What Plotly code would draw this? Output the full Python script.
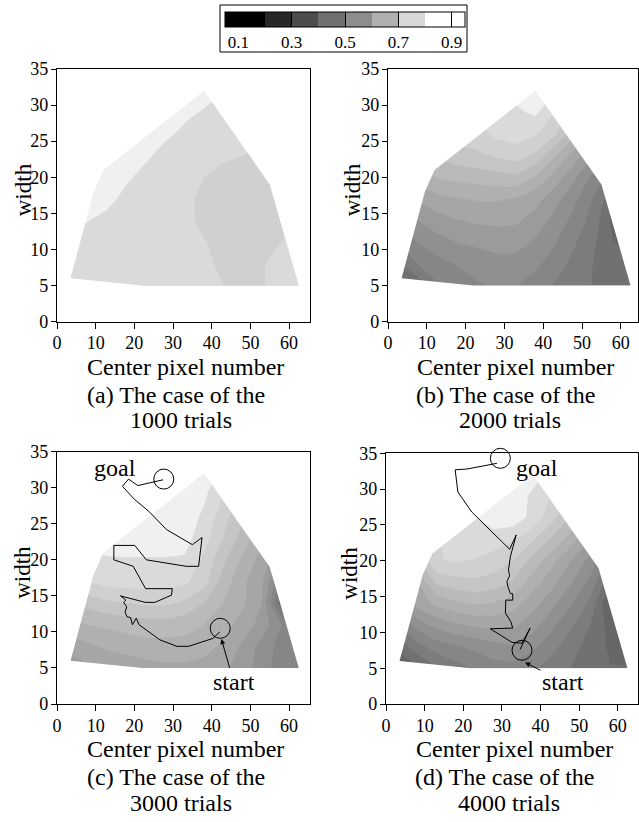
import plotly.graph_objects as go

# ---------------- data ----------------
grid_x = [3, 8, 13, 18, 23, 28, 33, 38, 43, 48, 53, 58, 63]        # center pixel number
grid_y = [5, 8, 11, 14, 17, 20, 23, 26, 29, 32]                     # width

rate_1000 = [
    [0.79, 0.79, 0.79, 0.79, 0.79, 0.79, 0.79, 0.79, 0.775, 0.765, 0.772, 0.79, 0.795],
    [0.79, 0.79, 0.79, 0.79, 0.79, 0.79, 0.79, 0.785, 0.765, 0.765, 0.772, 0.79, 0.79],
    [0.79, 0.79, 0.79, 0.79, 0.79, 0.79, 0.79, 0.777, 0.765, 0.765, 0.765, 0.775, 0.79],
    [0.805, 0.801, 0.79, 0.79, 0.79, 0.79, 0.785, 0.765, 0.765, 0.765, 0.765, 0.767, 0.78],
    [0.81, 0.81, 0.81, 0.79, 0.79, 0.79, 0.785, 0.765, 0.765, 0.765, 0.765, 0.765, 0.77],
    [0.81, 0.81, 0.81, 0.805, 0.79, 0.79, 0.79, 0.775, 0.765, 0.765, 0.765, 0.765, 0.77],
    [0.81, 0.81, 0.81, 0.81, 0.805, 0.79, 0.79, 0.79, 0.78, 0.775, 0.77, 0.77, 0.77],
    [0.81, 0.81, 0.81, 0.81, 0.81, 0.805, 0.795, 0.79, 0.79, 0.785, 0.78, 0.78, 0.78],
    [0.81, 0.81, 0.81, 0.81, 0.81, 0.81, 0.805, 0.798, 0.79, 0.79, 0.79, 0.79, 0.79],
    [0.81, 0.81, 0.81, 0.81, 0.81, 0.81, 0.81, 0.81, 0.80, 0.79, 0.79, 0.79, 0.79],
]

rate_2000 = [
    [0.519, 0.535, 0.573, 0.587, 0.597, 0.602, 0.602, 0.587, 0.573, 0.559, 0.549, 0.540, 0.535],
    [0.549, 0.578, 0.592, 0.602, 0.611, 0.616, 0.616, 0.606, 0.587, 0.568, 0.549, 0.535, 0.526],
    [0.578, 0.602, 0.616, 0.626, 0.630, 0.635, 0.635, 0.621, 0.602, 0.578, 0.554, 0.526, 0.516],
    [0.606, 0.626, 0.640, 0.649, 0.654, 0.656, 0.654, 0.640, 0.616, 0.592, 0.564, 0.516, 0.507],
    [0.637, 0.654, 0.668, 0.673, 0.678, 0.678, 0.673, 0.659, 0.635, 0.606, 0.573, 0.530, 0.516],
    [0.668, 0.687, 0.702, 0.707, 0.711, 0.716, 0.721, 0.697, 0.664, 0.630, 0.592, 0.559, 0.535],
    [0.697, 0.716, 0.730, 0.740, 0.745, 0.754, 0.761, 0.745, 0.702, 0.664, 0.626, 0.592, 0.564],
    [0.733, 0.745, 0.756, 0.761, 0.764, 0.782, 0.787, 0.778, 0.754, 0.707, 0.668, 0.626, 0.592],
    [0.768, 0.773, 0.778, 0.780, 0.782, 0.787, 0.795, 0.805, 0.775, 0.740, 0.704, 0.666, 0.630],
    [0.790, 0.790, 0.795, 0.800, 0.800, 0.805, 0.810, 0.820, 0.800, 0.760, 0.720, 0.680, 0.640],
]

rate_3000 = [
    [0.635, 0.645, 0.655, 0.66, 0.665, 0.67, 0.67, 0.665, 0.655, 0.64, 0.61, 0.59, 0.58],
    [0.66, 0.67, 0.68, 0.685, 0.69, 0.69, 0.69, 0.685, 0.67, 0.645, 0.615, 0.59, 0.58],
    [0.69, 0.70, 0.705, 0.71, 0.715, 0.715, 0.71, 0.70, 0.685, 0.665, 0.64, 0.60, 0.58],
    [0.725, 0.735, 0.745, 0.75, 0.755, 0.755, 0.745, 0.725, 0.70, 0.68, 0.65, 0.53, 0.52],
    [0.76, 0.775, 0.785, 0.787, 0.787, 0.787, 0.78, 0.76, 0.715, 0.68, 0.655, 0.57, 0.55],
    [0.785, 0.795, 0.798, 0.798, 0.798, 0.798, 0.797, 0.77, 0.73, 0.695, 0.665, 0.62, 0.58],
    [0.80, 0.805, 0.81, 0.815, 0.815, 0.815, 0.81, 0.785, 0.75, 0.715, 0.68, 0.64, 0.60],
    [0.81, 0.815, 0.82, 0.82, 0.82, 0.82, 0.815, 0.795, 0.76, 0.73, 0.70, 0.66, 0.62],
    [0.82, 0.82, 0.82, 0.82, 0.82, 0.82, 0.82, 0.805, 0.775, 0.745, 0.71, 0.67, 0.63],
    [0.82, 0.82, 0.82, 0.82, 0.82, 0.82, 0.82, 0.815, 0.79, 0.755, 0.72, 0.68, 0.64],
]

rate_4000 = [
    [0.507, 0.521, 0.549, 0.564, 0.578, 0.590, 0.590, 0.578, 0.564, 0.549, 0.535, 0.526, 0.526],
    [0.530, 0.564, 0.587, 0.597, 0.606, 0.616, 0.623, 0.606, 0.583, 0.559, 0.540, 0.521, 0.516],
    [0.573, 0.611, 0.633, 0.645, 0.654, 0.659, 0.654, 0.635, 0.606, 0.578, 0.549, 0.516, 0.502],
    [0.602, 0.659, 0.680, 0.695, 0.702, 0.697, 0.687, 0.659, 0.633, 0.602, 0.568, 0.497, 0.488],
    [0.649, 0.673, 0.730, 0.740, 0.745, 0.740, 0.721, 0.687, 0.659, 0.626, 0.592, 0.530, 0.507],
    [0.697, 0.721, 0.773, 0.778, 0.773, 0.764, 0.749, 0.716, 0.683, 0.649, 0.616, 0.566, 0.530],
    [0.745, 0.756, 0.773, 0.787, 0.792, 0.787, 0.778, 0.754, 0.721, 0.687, 0.649, 0.614, 0.578],
    [0.780, 0.787, 0.792, 0.796, 0.800, 0.815, 0.815, 0.792, 0.759, 0.721, 0.685, 0.649, 0.614],
    [0.800, 0.800, 0.805, 0.810, 0.815, 0.815, 0.815, 0.795, 0.773, 0.740, 0.709, 0.670, 0.640],
    [0.810, 0.810, 0.810, 0.815, 0.815, 0.815, 0.815, 0.810, 0.792, 0.756, 0.721, 0.685, 0.649],
]

# sampled region (outline of the explored parameter space)
region_x = [3.5, 9.5, 12, 38, 55, 62.5, 22, 3.5]
region_y = [6, 18, 21, 32, 19, 5, 5, 6]

# trajectories (goal -> start)
path_3000_x = [27.4, 20.9, 18.5, 16.9, 20.0, 23.8, 28.3, 35.0, 37.5, 36.6, 33.4, 23.1, 20.1, 14.7, 14.7,
               19.7, 22.9, 29.8, 29.6, 25.3, 22.8, 16.4, 17.8, 17.2, 18.0, 17.6, 18.1, 19.0, 19.5,
               20.5, 21.2, 26.6, 31.0, 34.0, 40.3, 42.1]
path_3000_y = [31.1, 30.3, 31.2, 30.2, 28.4, 26.7, 24.2, 22.1, 23.1, 19.1, 19.1, 20.0, 22.0, 22.0, 20.0,
               19.1, 16.0, 16.0, 15.1, 14.1, 14.1, 15.0, 14.4, 14.1, 13.5, 12.7, 12.1, 12.0, 11.0,
               11.9, 11.0, 8.9, 8.0, 8.0, 9.1, 10.0]
path_4000_x = [28.7, 20.9, 17.9, 18.6, 22.2, 32.0, 33.7, 32.2, 31.7, 32.0, 31.3, 31.6, 32.2, 32.8, 32.8,
               31.0, 30.9, 32.3, 32.8, 30.0, 27.0, 32.6, 35.2, 37.3, 34.7]
path_4000_y = [33.6, 32.8, 32.7, 29.6, 26.8, 21.6, 23.6, 20.6, 18.7, 17.9, 17.1, 16.3, 15.4, 15.4, 14.5,
               14.5, 12.7, 11.5, 10.6, 10.6, 10.5, 8.6, 8.5, 10.6, 7.6]
start_3000 = (42.2, 10.5)
goal_3000 = (27.6, 31.2)
start_4000 = (35.2, 7.5)
goal_4000 = (29.6, 34.3)

x_ticks = [0, 10, 20, 30, 40, 50, 60]
y_ticks = [0, 5, 10, 15, 20, 25, 30, 35]
cbar_ticks = [0.1, 0.3, 0.5, 0.7, 0.9]
x_title = "Center pixel number"
y_title = "width"
captions = [("(a) The case of the", "1000 trials"), ("(b) The case of the", "2000 trials"),
            ("(c) The case of the", "3000 trials"), ("(d) The case of the", "4000 trials")]

# ---------------- style ----------------
FONT = "Liberation Serif"
W, H = 639, 822

band_grays = [71, 81.5, 92, 102.5, 113, 123.5, 134, 144.5, 155, 165.5, 176, 186.5, 197, 207.5, 218, 240]
panel_scale = [[j / 15, "rgb(%d,%d,%d)" % (round(g), round(g), round(g))] for j, g in enumerate(band_grays)]
cbar_scale = [[0, "#000000"], [1 / 9, "#000000"], [2 / 9, "#272727"], [3 / 9, "#4d4d4d"],
              [4 / 9, "#707070"], [5 / 9, "#8d8d8d"], [6 / 9, "#b0b0b0"], [7 / 9, "#d8d8d8"],
              [8 / 9, "#ffffff"], [1, "#ffffff"]]


def px_x(p):
    return p / W


def px_y(p):
    return 1 - p / H


panels = [
    dict(x=(57, 310), y=(69, 321.5), xr=65.4, z=rate_1000, ytx=23),
    dict(x=(388, 638.3), y=(69, 321.5), xr=64.5, z=rate_2000, ytx=352),
    dict(x=(57, 310), y=(451.7, 704), xr=65.4, z=rate_3000, ytx=23),
    dict(x=(386, 638.3), y=(453.3, 704), xr=65.3, z=rate_4000, ytx=350),
]

fig = go.Figure()
layout = dict(width=W, height=H, margin=dict(l=0, r=0, t=0, b=0, autoexpand=False),
              paper_bgcolor="white", plot_bgcolor="white", showlegend=False,
              font=dict(family=FONT, color="black", size=18))
annotations = []

for i, p in enumerate(panels):
    n = i + 1
    xa = "x" if n == 1 else "x%d" % n
    ya = "y" if n == 1 else "y%d" % n
    fig.add_trace(go.Contour(
        x=grid_x, y=grid_y, z=p["z"], xaxis=xa, yaxis=ya,
        colorscale=panel_scale, zauto=False, zmin=0.3, zmax=0.95, showscale=False,
        autocontour=False, contours=dict(start=0.45, end=0.8, size=0.025, coloring="fill", showlines=False),
        line=dict(width=0, smoothing=0), hoverinfo="skip"))
    # white out the part of the grid outside the sampled region
    fig.add_trace(go.Scatter(
        x=[2.5, 63.5, 63.5, 2.5, 2.5, None] + region_x,
        y=[4.8, 4.8, 32.5, 32.5, 4.8, None] + region_y,
        xaxis=xa, yaxis=ya, mode="lines", fill="toself", fillcolor="white",
        line=dict(width=0, color="white"), hoverinfo="skip"))
    axis_common = dict(showgrid=False, zeroline=False, showline=True, mirror=True,
                       linecolor="black", linewidth=1.3, ticks="outside", ticklen=5,
                       tickwidth=1, tickcolor="black", tickfont=dict(size=18, family=FONT))
    layout["xaxis" if n == 1 else "xaxis%d" % n] = dict(
        axis_common, domain=[px_x(p["x"][0]), px_x(p["x"][1])], range=[0, p["xr"]],
        tickvals=x_ticks, anchor=ya, ticklen=6, ticklabelstandoff=-1)
    layout["yaxis" if n == 1 else "yaxis%d" % n] = dict(
        axis_common, domain=[px_y(p["y"][1]), px_y(p["y"][0])], range=[0, 35],
        tickvals=y_ticks, anchor=xa, ticklabelstandoff=-1)
    mid = (p["x"][0] + p["x"][1]) / 2
    ybase = p["y"][1]
    annotations.append(dict(xref="paper", yref="paper", x=px_x(mid + 2), y=px_y(ybase + 45), text=x_title,
                            showarrow=False, font=dict(size=24, family=FONT), xanchor="center", yanchor="middle"))
    annotations.append(dict(xref="paper", yref="paper", x=px_x(p["ytx"]),
                            y=px_y((p["y"][0] + p["y"][1]) / 2 - 5), text=y_title, textangle=-90,
                            showarrow=False, font=dict(size=23, family=FONT), xanchor="center", yanchor="middle"))
    annotations.append(dict(xref="paper", yref="paper", x=px_x(mid - 8), y=px_y(ybase + 73), text=captions[i][0],
                            showarrow=False, font=dict(size=24, family=FONT), xanchor="center", yanchor="middle"))
    annotations.append(dict(xref="paper", yref="paper", x=px_x(mid - 3), y=px_y(ybase + 99), text=captions[i][1],
                            showarrow=False, font=dict(size=24, family=FONT), xanchor="center", yanchor="middle"))

traj = [(3, path_3000_x, path_3000_y, start_3000, goal_3000),
        (4, path_4000_x, path_4000_y, start_4000, goal_4000)]
for n, tx, ty, st, gl in traj:
    xa, ya = "x%d" % n, "y%d" % n
    fig.add_trace(go.Scatter(x=tx, y=ty, xaxis=xa, yaxis=ya, mode="lines",
                             line=dict(color="black", width=1), hoverinfo="skip"))
    fig.add_trace(go.Scatter(x=[st[0], gl[0]], y=[st[1], gl[1]], xaxis=xa, yaxis=ya, mode="markers",
                             marker=dict(symbol="circle-open", size=20, color="black", line=dict(width=1)),
                             hoverinfo="skip", cliponaxis=False))

annotations += [
    dict(xref="x3", yref="y3", x=15.1, y=32.8, text="goal", showarrow=False, font=dict(size=24, family=FONT)),
    dict(xref="x3", yref="y3", x=42.5, y=9.0, axref="x3", ayref="y3", ax=45.7, ay=3.0, text="start",
         showarrow=True, arrowhead=2, arrowsize=1, arrowwidth=1, arrowcolor="black",
         font=dict(size=24, family=FONT)),
    dict(xref="x4", yref="y4", x=39.2, y=33.0, text="goal", showarrow=False, font=dict(size=24, family=FONT)),
    dict(xref="x4", yref="y4", x=36.0, y=5.8, axref="x4", ayref="y4", ax=45.8, ay=3.1, text="start",
         showarrow=True, arrowhead=2, arrowsize=1, arrowwidth=1, arrowcolor="black",
         font=dict(size=24, family=FONT)),
]

# colour bar (carried by a hidden helper trace)
fig.add_trace(go.Contour(
    x=[-10, -9], y=[-10, -9], z=[[0.1, 0.9], [0.9, 0.1]], xaxis="x5", yaxis="y5",
    colorscale=cbar_scale, autocontour=False,
    contours=dict(start=0.1, end=0.9, size=0.1, coloring="fill", showlines=False),
    line=dict(width=0), hoverinfo="skip",
    colorbar=dict(orientation="h", lenmode="pixels", len=254, thicknessmode="pixels", thickness=15,
                  x=345 / W, xanchor="center", y=px_y(5), yanchor="top", xpad=7, ypad=7,
                  outlinewidth=1, outlinecolor="black", borderwidth=0,
                  title=dict(text=""),
                  tickvals=cbar_ticks, ticktext=["0.1", "0.3", "0.5", "0.7", "0.9"],
                  ticks="inside", ticklen=15, tickcolor="black", tickwidth=1,
                  tickfont=dict(size=17, family=FONT))))
layout["xaxis5"] = dict(domain=[0, 0.01], range=[0, 1], visible=False, anchor="y5")
layout["yaxis5"] = dict(domain=[0, 0.01], range=[0, 1], visible=False, anchor="x5")
layout["annotations"] = annotations
layout["shapes"] = [dict(type="rect", xref="paper", yref="paper", x0=px_x(220), x1=px_x(467),
                         y0=px_y(52), y1=px_y(5), line=dict(color="black", width=1))]

fig.update_layout(**layout)
fig.write_html("out.html", config={"displayModeBar": False},
               post_script="document.body.style.margin='0px';")
